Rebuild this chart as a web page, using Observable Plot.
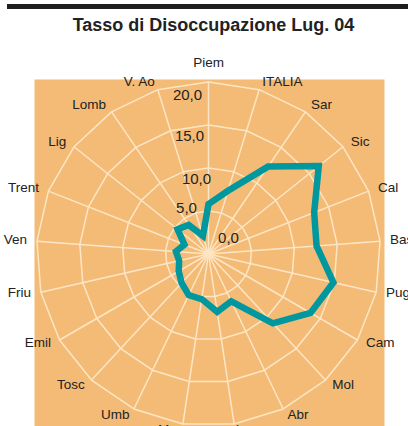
<!DOCTYPE html>
<html>
<head>
<meta charset="utf-8">
<script src="https://cdn.jsdelivr.net/npm/d3@7"></script>
<script src="https://cdn.jsdelivr.net/npm/@observablehq/plot@0.6"></script>
<style>
  html, body { margin: 0; padding: 0; background: #fff; width: 408px; height: 426px; overflow: hidden; }
  body { position: relative; font-family: "Liberation Sans", Arial, sans-serif; }
  #bar { position: absolute; left: 7px; right: 0; top: 4px; height: 4.5px; background: #1e1e1e; }
  #title { position: absolute; left: 0; width: 427px; top: 15px; text-align: center;
           font-size: 18px; font-weight: bold; color: #222; line-height: 20px; }
  #chart { position: absolute; left: 0; top: 40px; }
</style>
</head>
<body>
<div id="bar"></div>
<div id="title">Tasso di Disoccupazione Lug. 04</div>
<div id="chart"></div>
<script>
// ---- data ----
const categories = ["Piem","ITALIA","Sar","Sic","Cal","Bas","Pug","Cam","Mol","Abr","Laz","Mar","Umb","Tosc","Emil","Friu","Ven","Trent","Lig","Lomb","V. Ao"];
const values = [5.8, 7.7, 12.3, 16.4, 13.2, 12.6, 14.9, 13.7, 11.0, 6.1, 6.8, 5.3, 5.3, 4.6, 4.0, 3.5, 3.8, 3.0, 4.6, 4.1, 2.2];
const ringValues = [5, 10, 15, 20];
const tickValues = [0, 5, 10, 15, 20];
const tickLabels = ["0,0", "5,0", "10,0", "15,0", "20,0"];

// ---- layout ----
const W = 408, H = 386;
const K = 8.6;            // px per unit
const CX = 208, CY = 213.5;
const rMax = 20;
const n = categories.length;
const ang = i => i * 2 * Math.PI / n;

const ringData = [];
ringValues.forEach(v => {
  for (let i = 0; i <= n; i++) {
    const a = ang(i % n);
    ringData.push({ring: v, x: v * Math.sin(a), y: v * Math.cos(a)});
  }
});
const spokes = categories.map((c, i) => ({x: rMax * Math.sin(ang(i)), y: rMax * Math.cos(ang(i))}));
const series = values.concat([values[0]]).map((v, i) => ({x: v * Math.sin(ang(i % n)), y: v * Math.cos(ang(i % n))}));

const catLabels = categories.map((c, i) => {
  const s = Math.sin(ang(i)), co = Math.cos(ang(i));
  let ox = 10 * s, oy = 7 * co + 1;
  if (Math.abs(s) < 0.05) { ox = 0; oy = 19; }
  return {
    label: c,
    x: rMax * s + ox / K,
    y: rMax * co + oy / K,
    anchor: s > 0.05 ? "start" : s < -0.05 ? "end" : "middle"
  };
});

// tick label placement (px offsets relative to the ring point on the first axis)
const tickOffset = {0: [20, 15.5], 5: [-22, 3], 10: [-12, -11.5], 15: [-19, -11.5], 20: [-21, -13.5]};
const ticks = tickValues.map((v, i) => ({
  label: tickLabels[i],
  x: tickOffset[v][0] / K,
  y: v + tickOffset[v][1] / K
}));

const chart = Plot.plot({
  width: W, height: H,
  marginLeft: 34, marginRight: 24, marginTop: 39, marginBottom: 0,
  x: {type: "linear", domain: [0, 1], range: [CX, CX + K], axis: null},
  y: {type: "linear", domain: [0, 1], range: [CY, CY - K], axis: null},
  style: {fontFamily: "'Liberation Sans', Arial, sans-serif", background: "transparent", overflow: "visible"},
  marks: [
    Plot.frame({fill: "#f3bb76", stroke: "none"}),
    Plot.line(ringData, {x: "x", y: "y", z: "ring", stroke: "#fde6c6", strokeWidth: 1.5}),
    Plot.link(spokes, {x1: () => 0, y1: () => 0, x2: "x", y2: "y", stroke: "#fde6c6", strokeWidth: 1.5}),
    Plot.line(series, {x: "x", y: "y", stroke: "#00979f", strokeWidth: 6.5, strokeLinejoin: "miter", strokeMiterlimit: 10}),
    Plot.text(ticks, {x: "x", y: "y", text: "label", fontSize: 15, fill: "#222", textAnchor: "middle"}),
    Plot.text(catLabels.filter(d => d.anchor === "start"), {x: "x", y: "y", text: "label", fontSize: 13.5, fill: "#222", textAnchor: "start"}),
    Plot.text(catLabels.filter(d => d.anchor === "end"), {x: "x", y: "y", text: "label", fontSize: 13.5, fill: "#222", textAnchor: "end"}),
    Plot.text(catLabels.filter(d => d.anchor === "middle"), {x: "x", y: "y", text: "label", fontSize: 13.5, fill: "#222", textAnchor: "middle"})
  ]
});
document.getElementById("chart").appendChild(chart);
</script>
</body>
</html>
